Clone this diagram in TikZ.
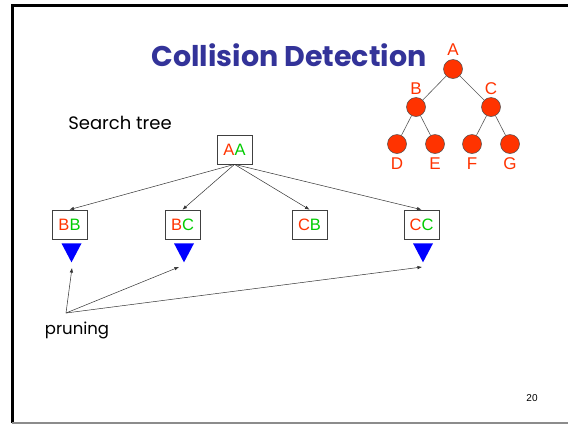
\documentclass[tikz,border=0pt]{standalone}
\usepackage{fontspec}
\setmainfont{Liberation Sans}
\newfontfamily\handfont{Poppins}
\usetikzlibrary{arrows.meta,calc}
\definecolor{titleblue}{RGB}{51,51,153}
\definecolor{nodered}{RGB}{255,51,0}
\definecolor{pairgreen}{RGB}{0,204,0}
\definecolor{prunblue}{RGB}{0,0,255}
\tikzset{
  treenode/.style={circle, fill=nodered, draw=black!70, line width=0.5pt, minimum size=19pt, inner sep=0pt},
  treeedge/.style={draw=black!65, line width=0.6pt},
  treelabel/.style={text=nodered, font=\fontsize{17}{17}\selectfont, inner sep=0pt},
  pairbox/.style={draw=black!75, line width=0.7pt, minimum width=35pt, minimum height=29pt, inner sep=0pt, font=\fontsize{16.5}{16.5}\selectfont},
  searcharrow/.style={draw=black!80, line width=0.5pt, -{Latex[length=4.5pt,width=3.5pt]}},
  handtext/.style={font=\handfont\fontsize{16.5}{16.5}\selectfont, inner sep=0pt}
}
\newcommand{\pr}[2]{\textcolor{nodered}{#1}\textcolor{pairgreen}{#2}}
\begin{document}
\begin{tikzpicture}[x=1pt,y=-1pt]
\useasboundingbox (0,0) rectangle (568,424);
\fill[white] (0,0) rectangle (568,424);
% slide frame
\draw[line width=3pt] (12,423) -- (12,5) -- (568,5);
\draw[black!45, line width=2pt] (12,423) -- (568,423);

% title
\node[text=titleblue, font=\handfont\bfseries\fontsize{28.5}{28.5}\selectfont, inner sep=0pt] (title) at (289,55) {Collision Detection};

% binary tree
\node[treenode] (A) at (453,69) {};
\node[treenode] (B) at (416,107) {};
\node[treenode] (C) at (491,107) {};
\node[treenode] (D) at (397,144) {};
\node[treenode] (E) at (435,144) {};
\node[treenode] (F) at (472,144) {};
\node[treenode] (G) at (510,144) {};
\path[treeedge] (A) -- (B) (A) -- (C) (B) -- (D) (B) -- (E) (C) -- (F) (C) -- (G);
\node[treelabel] (lA) at (453,50) {A};
\node[treelabel] (lB) at (416,89) {B};
\node[treelabel] (lC) at (491,89) {C};
\node[treelabel] (lD) at (397,164) {D};
\node[treelabel] (lE) at (435,164) {E};
\node[treelabel] (lF) at (472,164) {F};
\node[treelabel] (lG) at (510,164) {G};

% search tree of node pairs
\node[handtext, font=\handfont\fontsize{18}{18}\selectfont] (search) at (120,123) {Search tree};
\node[pairbox] (AA) at (234.5,149.5) {\pr{A}{A}};
\node[pairbox] (BB) at (69.5,224.5) {\pr{B}{B}};
\node[pairbox] (BC) at (182.5,224.5) {\pr{B}{C}};
\node[pairbox] (CB) at (309.5,224.5) {\pr{C}{B}};
\node[pairbox] (CC) at (421.5,224.5) {\pr{C}{C}};
\foreach \n in {BB,BC,CB,CC} \draw[searcharrow] (AA.south) -- (\n.north);

% pruned subtrees
\foreach \n/\dx in {BB/2,BC/1.5,CC/1.5}
  \fill[prunblue] ($(\n.south)+(\dx-10,4)$) -- ++(20,0) -- ++(-10,19) -- cycle;

% pruning annotation
\node[handtext] (pruning) at (77,330) {pruning};
\coordinate (p0) at (66,313);
\coordinate (tBB) at (72,268);
\coordinate (tBC) at (179,267);
\coordinate (tCC) at (422,267);
\foreach \t in {tBB,tBC,tCC} \draw[searcharrow] (p0) -- (\t);

% page number
\node[font=\fontsize{10}{10}\selectfont, inner sep=0pt] (page) at (532,398) {20};
\end{tikzpicture}
\end{document}
